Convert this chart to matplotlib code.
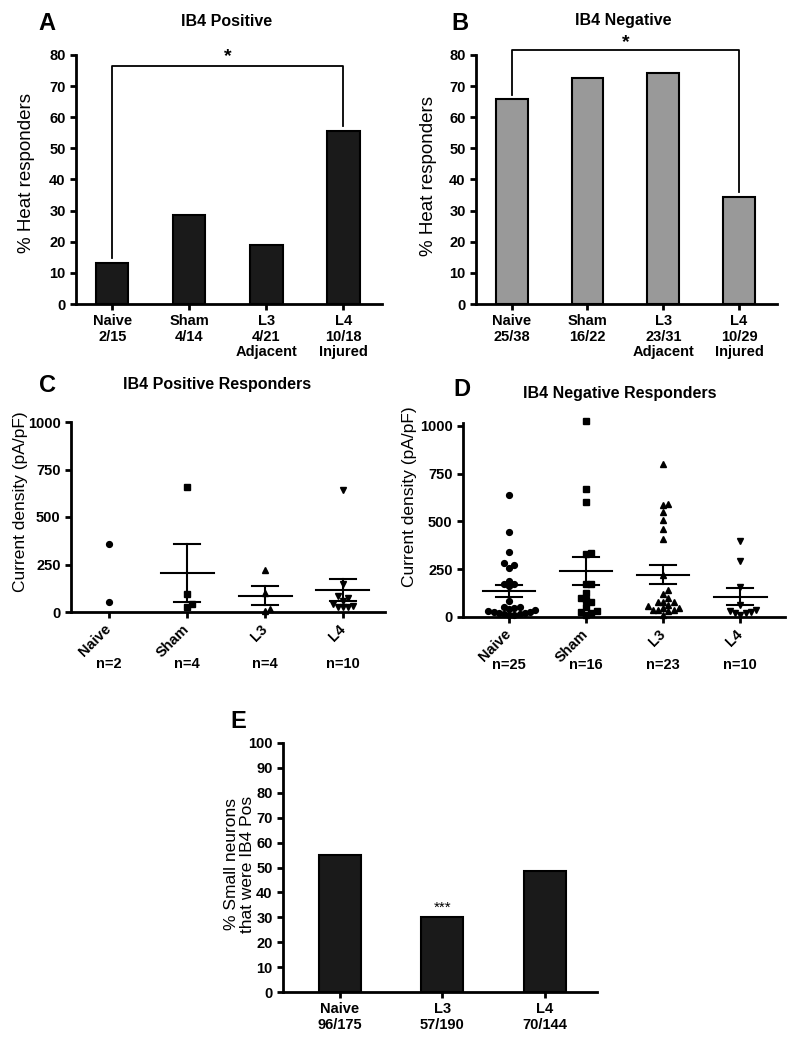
import matplotlib
matplotlib.use('Agg')
import matplotlib.pyplot as plt
import numpy as np

plt.rcParams['font.family'] = ['Liberation Sans', 'DejaVu Sans']

W, H = 793, 1043  # output size in px (dpi 100)

# ---- panels A / B : % heat responders ----
groups = ['Naive', 'Sham', 'L3', 'L4']
group_extra = ['', '', 'Adjacent', 'Injured']
pos_counts = ['2/15', '4/14', '4/21', '10/18']
neg_counts = ['25/38', '16/22', '23/31', '10/29']
pos_pct = [13.3, 28.6, 19.0, 55.6]
neg_pct = [65.8, 72.7, 74.2, 34.5]

# ---- panels C / D : current density of responders (pA/pF) ----
pos_naive = [358, 55]
pos_sham = [660, 95, 42, 26]
pos_l3 = [220, 100, 15, 5]
pos_l4 = [640, 145, 85, 72, 60, 30, 28, 26, 24, 40]

neg_naive = [636, 447, 342, 280, 272, 257, 189, 173, 173, 160, 86, 51, 51,
             45, 40, 35, 30, 25, 25, 20, 20, 15, 15, 10, 10]
neg_sham = [1023, 669, 600, 335, 330, 172, 172, 128, 100, 90, 78, 54, 33,
            25, 20, 10]
neg_l3 = [802, 592, 587, 548, 505, 461, 409, 220, 141, 120, 98, 80, 80, 80,
          63, 46, 46, 37, 37, 37, 34, 10, 60]
neg_l4 = [400, 295, 159, 63, 33, 19, 10, 19, 28, 37]

# ---- panel E : % small neurons IB4 positive ----
e_groups = ['Naive', 'L3', 'L4']
e_counts = ['96/175', '57/190', '70/144']
e_pct = [54.9, 30.0, 48.6]

fig = plt.figure(figsize=(W / 100, H / 100), dpi=100)


def px_axes(left, top, right, bottom):
    return fig.add_axes([left / W, 1 - bottom / H, (right - left) / W, (bottom - top) / H])


def px_text(x, y, s, **kw):
    fig.text(x / W, 1 - y / H, s, ha='center', va='center', **kw)


def style(ax):
    for s in ['top', 'right']:
        ax.spines[s].set_visible(False)
    for s in ['left', 'bottom']:
        ax.spines[s].set_linewidth(2)
    ax.tick_params(axis='both', width=2, length=4.5, labelsize=10.5, pad=3)


def set_yt(ax, ticks):
    ax.set_yticks(ticks)
    ax.set_yticklabels([str(t) for t in ticks], fontweight='bold')


def bar_panel(ax, vals, counts, color):
    x = np.arange(len(vals))
    ax.bar(x, vals, width=0.42, color=color, edgecolor='black', linewidth=1.5, zorder=2)
    labels = []
    for g, c, e in zip(groups, counts, group_extra):
        labels.append(g + '\n' + c + ('\n' + e if e else ''))
    ax.set_xticks(x)
    ax.set_xticklabels(labels, fontweight='bold', va='top', linespacing=1.1)
    ax.set_ylim(0, 80)
    ax.set_xlim(-0.47, 3.5)
    set_yt(ax, range(0, 81, 10))
    style(ax)
    ax.set_ylabel('% Heat responders', fontsize=13.5)


def bracket(ax, vals, i, j, top, star_y):
    y1 = vals[i] + 1.5
    y2 = vals[j] + 1.5
    ax.plot([i, i, j, j], [y1, top, top, y2], color='black', lw=1.3, clip_on=False, zorder=3)
    ax.text((i + j) / 2, star_y, '*', ha='center', va='center', fontsize=14,
            fontweight='bold', clip_on=False)


# A
axA = px_axes(76, 55, 382, 304)
bar_panel(axA, pos_pct, pos_counts, '#1a1a1a')
bracket(axA, pos_pct, 0, 3, 76.5, 79.5)
axA.yaxis.set_label_coords(-0.134, 0.528)

# B
axB = px_axes(476, 55, 777, 304)
bar_panel(axB, neg_pct, neg_counts, '#999999')
bracket(axB, neg_pct, 0, 3, 81.5, 84.0)
axB.yaxis.set_label_coords(-0.13, 0.514)

px_text(47, 23, 'A', fontsize=17, fontweight='bold')
px_text(227, 21, 'IB4 Positive', fontsize=11.5, fontweight='bold')
px_text(460, 23, 'B', fontsize=17, fontweight='bold')
px_text(623, 21, 'IB4 Negative', fontsize=11.5, fontweight='bold')


def swarm(vals, ypx, xpx, d=5.2):
    vals = np.asarray(vals, dtype=float)
    order = np.argsort(vals)
    placed = []
    xs = np.zeros(len(vals))
    for i in order:
        y = vals[i] * ypx
        for k in [0, 1, -1, 2, -2, 3, -3, 4, -4, 5, -5, 6, -6]:
            x = k * d
            if all((x - px) ** 2 + (y - py) ** 2 >= d * d for px, py in placed):
                break
        placed.append((x, y))
        xs[i] = x / xpx
    return xs


def scatter_panel(ax, data, ypx, xpx, ymax, n_y):
    markers = ['o', 's', '^', 'v']
    for i, (vals, m) in enumerate(zip(data, markers)):
        xs = i + swarm(vals, ypx, xpx)
        ax.plot(xs, vals, linestyle='none', marker=m, markersize=4.2, color='black',
                clip_on=False, zorder=3)
        if len(vals) > 2:
            v = np.asarray(vals, dtype=float)
            mean = v.mean()
            sem = v.std(ddof=1) / np.sqrt(len(v))
            ax.plot([i - 0.34, i + 0.34], [mean, mean], color='black', lw=1.5, zorder=4)
            ax.plot([i - 0.17, i + 0.17], [mean + sem] * 2, color='black', lw=1.5, zorder=4)
            ax.plot([i - 0.17, i + 0.17], [mean - sem] * 2, color='black', lw=1.5, zorder=4)
            ax.plot([i, i], [mean - sem, mean + sem], color='black', lw=1.5, zorder=4)
        ax.text(i, n_y, 'n=%d' % len(vals), fontsize=10.5, fontweight='bold',
                ha='center', va='center', transform=ax.get_xaxis_transform())
    ax.set_ylim(0, ymax)
    set_yt(ax, [0, 250, 500, 750, 1000])
    ax.set_xticks(range(4))
    ax.set_xticklabels(groups, fontweight='bold', rotation=45, ha='right',
                       va='center', rotation_mode='anchor')
    style(ax)
    ax.tick_params(axis='x', pad=6)
    ax.set_ylabel('Current density (pA/pF)', fontsize=12.5)


# C
axC = px_axes(71, 422, 385, 612)
axC.set_xlim(-0.49, 3.54)
scatter_panel(axC, [pos_naive, pos_sham, pos_l3, pos_l4], 0.19, 78, 1000,
              -(664 - 612) / 190)
axC.yaxis.set_label_coords(-0.136, 0.58)

# D
axD = px_axes(463, 423, 785, 617)
axD.set_xlim(-0.6, 3.58)
scatter_panel(axD, [neg_naive, neg_sham, neg_l3, neg_l4], 0.191, 77, 1015,
              -(665 - 617) / 194)
axD.yaxis.set_label_coords(-0.142, 0.62)

px_text(47, 385, 'C', fontsize=17, fontweight='bold')
px_text(217, 385, 'IB4 Positive Responders', fontsize=11.5, fontweight='bold')
px_text(462, 390, 'D', fontsize=17, fontweight='bold')
px_text(620, 394, 'IB4 Negative Responders', fontsize=11.5, fontweight='bold')

# E
axE = px_axes(283, 743, 597, 992)
xe = np.arange(len(e_pct))
axE.bar(xe, e_pct, width=0.41, color='#1a1a1a', edgecolor='black', linewidth=1.5, zorder=2)
axE.set_xticks(xe)
axE.set_xticklabels([g + '\n' + c for g, c in zip(e_groups, e_counts)],
                    fontweight='bold', linespacing=1.1)
axE.set_xlim(-0.556, 2.51)
axE.set_ylim(0, 100)
set_yt(axE, range(0, 101, 10))
style(axE)
axE.set_ylabel('% Small neurons\nthat were IB4 Pos', fontsize=12.5, linespacing=1.1)
axE.yaxis.set_label_coords(-0.089, 0.514)
axE.text(1, e_pct[1] + 1.0, '***', ha='center', va='bottom', fontsize=11)
px_text(238, 722, 'E', fontsize=17, fontweight='bold')

fig.savefig('out.png', dpi=100)
